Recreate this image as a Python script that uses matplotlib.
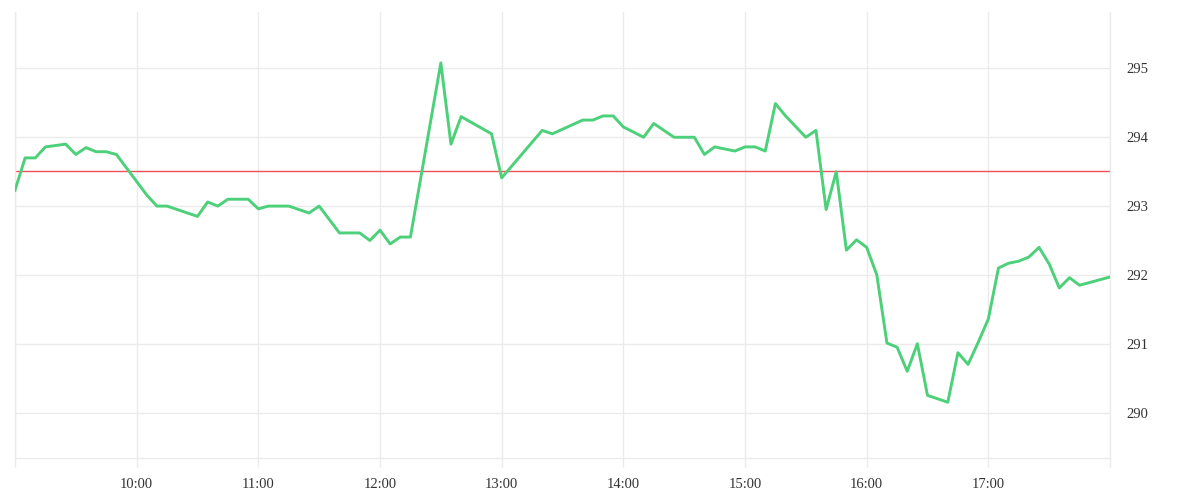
import pandas as pd
import matplotlib
matplotlib.use("Agg")
import matplotlib.pyplot as plt

# intraday price, 5 minute bars (only the turning points are listed)
times = ["09:00", "09:05", "09:10", "09:15", "09:25", "09:30", "09:35", "09:40",
         "09:45", "09:50", "10:05", "10:10", "10:15", "10:30", "10:35", "10:40",
         "10:45", "10:55", "11:00", "11:05", "11:15", "11:25", "11:30", "11:40",
         "11:50", "11:55", "12:00", "12:05", "12:10", "12:15", "12:30", "12:35",
         "12:40", "12:55", "13:00", "13:20", "13:25", "13:40", "13:45", "13:50",
         "13:55", "14:00", "14:10", "14:15", "14:25", "14:35", "14:40", "14:45",
         "14:55", "15:00", "15:05", "15:10", "15:15", "15:20", "15:30", "15:35",
         "15:40", "15:45", "15:50", "15:55", "16:00", "16:05", "16:10", "16:15",
         "16:20", "16:25", "16:30", "16:40", "16:45", "16:50", "16:55", "17:00",
         "17:05", "17:10", "17:15", "17:20", "17:25", "17:30", "17:35", "17:40",
         "17:45", "18:00"]
prices = [293.23, 293.70, 293.70, 293.86, 293.90, 293.75, 293.85, 293.79,
          293.79, 293.75, 293.16, 293.00, 293.00, 292.85, 293.06, 293.00,
          293.10, 293.10, 292.96, 293.00, 293.00, 292.90, 293.00, 292.61,
          292.61, 292.50, 292.65, 292.45, 292.55, 292.55, 295.08, 293.90,
          294.30, 294.05, 293.41, 294.10, 294.05, 294.25, 294.25, 294.31,
          294.31, 294.15, 294.00, 294.20, 294.00, 294.00, 293.75, 293.86,
          293.80, 293.86, 293.86, 293.80, 294.49, 294.31, 294.00, 294.10,
          292.95, 293.50, 292.36, 292.51, 292.40, 292.00, 291.01, 290.95,
          290.60, 291.00, 290.25, 290.15, 290.87, 290.70, 291.02, 291.36,
          292.10, 292.17, 292.20, 292.26, 292.40, 292.16, 291.81, 291.96,
          291.85, 291.97]
ref_price = 293.51  # previous close
y_ticks = [290, 291, 292, 293, 294, 295]

day = "2024-01-02 "
t = pd.to_datetime([day + s for s in times])
t_start = pd.Timestamp(day + "09:00")
t_end = pd.Timestamp(day + "18:00")

grid_col = "#ebebeb"
label_font = "Liberation Serif"

fig = plt.figure(figsize=(12, 5), dpi=100)
ax = fig.add_axes([0.0125, 0.084, 0.9125, 0.892])

ax.plot(t, prices, color="#4cd07a", linewidth=2.1, zorder=3)
ax.axhline(ref_price, color="#f0505a", linewidth=1.0, zorder=2)

ax.set_xlim(t_start, t_end)
ax.set_ylim(289.34, 295.82)

# hourly grid, labels only on the inner hours
hours = pd.date_range(t_start, t_end, freq="1h")
ax.set_xticks(hours)
ax.set_xticklabels(["" if h in (t_start, t_end) else h.strftime("%H:%M") for h in hours],
                   fontfamily=label_font)

ax.yaxis.tick_right()
ax.set_yticks(y_ticks)
ax.set_yticklabels([str(v) for v in y_ticks], fontfamily=label_font)

ax.grid(True, color=grid_col, linewidth=1.0, zorder=0)
ax.tick_params(axis="x", direction="out", length=6.5, width=1.0, color=grid_col,
               pad=8, labelsize=10.5, labelcolor="#333333")
ax.tick_params(axis="y", length=0, pad=12, labelsize=10.5, labelcolor="#333333")

ax.spines["top"].set_visible(False)
for side in ["left", "right", "bottom"]:
    ax.spines[side].set_color(grid_col)
    ax.spines[side].set_linewidth(1.0)

fig.savefig("out.png", dpi=100, facecolor="white")
